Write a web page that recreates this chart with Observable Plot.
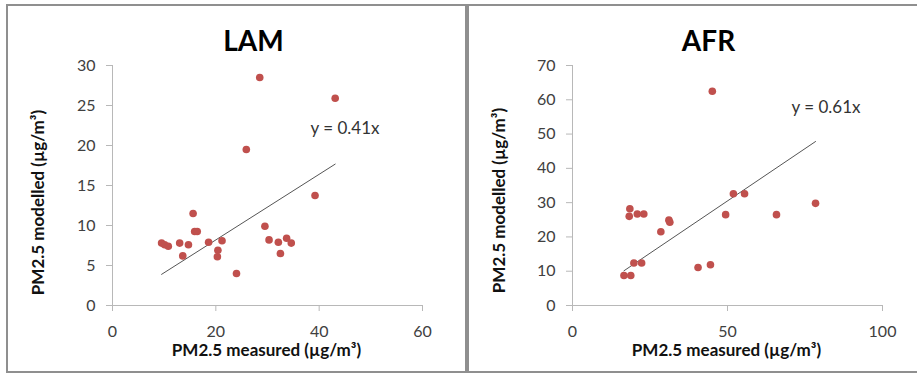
<!DOCTYPE html>
<html><head><meta charset="utf-8">
<script src="https://cdn.jsdelivr.net/npm/d3@7"></script>
<script src="https://cdn.jsdelivr.net/npm/@observablehq/plot@0.6"></script>
<style>
html,body{margin:0;padding:0;background:#fff;width:917px;height:375px;overflow:hidden;position:relative;font-family:Lato,sans-serif}
.panel{position:absolute;top:0}
.b{position:absolute;background:#8f8f8f}
</style></head><body>
<div id="left" class="panel" style="left:0"></div>
<div id="right" class="panel" style="left:467px"></div>
<div class="b" style="left:6px;top:4px;width:911px;height:2px"></div>
<div class="b" style="left:6px;top:4px;width:2px;height:369px"></div>
<div class="b" style="left:465px;top:4px;width:4px;height:369px"></div>
<div class="b" style="left:6px;top:371px;width:911px;height:2px"></div>
<script>
// LAM region
const lamMeasured = [9.5,10.1,10.8,13.0,13.6,14.7,15.6,15.9,16.4,18.6,20.3,20.4,21.2,24.0,25.9,28.5,29.5,30.3,32.1,32.5,33.7,34.6,39.2,43.1];
const lamModelled = [7.8,7.6,7.4,7.8,6.2,7.6,11.5,9.25,9.25,7.9,6.1,6.9,8.1,4.0,19.5,28.5,9.9,8.2,7.9,6.5,8.4,7.8,13.75,25.9];
const lamSlope = 0.41;
const lamXTicks = [0,20,40,60];
const lamYTicks = [0,5,10,15,20,25,30];
// AFR region
const afrMeasured = [16.6,18.8,18.5,18.3,20.9,23.0,19.8,22.3,28.5,31.1,31.4,40.5,44.5,45.1,49.4,51.9,55.5,65.8,78.4];
const afrModelled = [8.75,8.75,28.2,26.0,26.7,26.7,12.4,12.4,21.5,24.9,24.3,11.1,11.9,62.5,26.5,32.6,32.6,26.5,29.8];
const afrSlope = 0.61;
const afrXTicks = [0,50,100];
const afrYTicks = [0,10,20,30,40,50,60,70];

const xTitle = "PM2.5 measured (µg/m³)";
const yTitle = "PM2.5 modelled (µg/m³)";

function panel({title, xs, ys, slope, xTicks, yTicks, width, marginLeft, marginRight, titleDx, xTitleDx, yTitleDx, yTitleDy, eqDx, eqDy}) {
  const data = xs.map((x, i) => ({x, y: ys[i]}));
  const ext = d3.extent(xs);
  const trend = ext.map(x => ({x, y: slope * x}));
  const axisStroke = "#b8b8b8";
  return Plot.plot({
    width, height: 375,
    marginLeft, marginRight, marginTop: 65, marginBottom: 70,
    style: {fontFamily: "Lato, sans-serif", background: "transparent", overflow: "visible"},
    x: {domain: [xTicks[0], xTicks[xTicks.length - 1]]},
    y: {domain: [yTicks[0], yTicks[yTicks.length - 1]]},
    marks: [
      Plot.ruleX([xTicks[0]], {stroke: axisStroke}),
      Plot.ruleY([yTicks[0]], {stroke: axisStroke}),
      Plot.axisX({ticks: xTicks, tickSize: 6, tickPadding: 14, stroke: axisStroke, fill: "#404040", fontSize: 16, label: null, tickFormat: d => String(d)}),
      Plot.axisY({ticks: yTicks, tickSize: 6, tickPadding: 11, stroke: axisStroke, fill: "#404040", fontSize: 16, label: null, tickFormat: d => String(d)}),
      Plot.line(trend, {x: "x", y: "y", stroke: "#555", strokeWidth: 1}),
      Plot.dot(data, {x: "x", y: "y", r: 3.8, fill: "#c0504d", stroke: "none"}),
      Plot.text([title], {frameAnchor: "top", dx: titleDx, dy: -23, textAnchor: "middle", lineAnchor: "middle", fontSize: 28, fontWeight: "bold", fill: "#000"}),
      Plot.text([xTitle], {frameAnchor: "bottom", dx: xTitleDx, dy: 45, textAnchor: "middle", lineAnchor: "middle", fontSize: 17, fontWeight: "bold", fill: "#111"}),
      Plot.text([yTitle], {frameAnchor: "left", dx: yTitleDx, dy: yTitleDy, rotate: -90, textAnchor: "middle", lineAnchor: "middle", fontSize: 17, fontWeight: "bold", fill: "#111"}),
      Plot.text([`y = ${slope}x`], {frameAnchor: "top-left", dx: eqDx, dy: eqDy, textAnchor: "start", lineAnchor: "middle", fontSize: 17, fill: "#333"})
    ]
  });
}

document.getElementById("left").append(panel({
  title: "LAM", xs: lamMeasured, ys: lamModelled, slope: lamSlope, xTicks: lamXTicks, yTicks: lamYTicks,
  width: 467, marginLeft: 112, marginRight: 45, titleDx: -14, xTitleDx: -1, yTitleDx: -74, yTitleDy: 17, eqDx: 198, eqDy: 63
}));
document.getElementById("right").append(panel({
  title: "AFR", xs: afrMeasured, ys: afrModelled, slope: afrSlope, xTicks: afrXTicks, yTicks: afrYTicks,
  width: 450, marginLeft: 105, marginRight: 35, titleDx: -19, xTitleDx: -1, yTitleDx: -73, yTitleDy: 15, eqDx: 219, eqDy: 42
}));
</script>
</body></html>
